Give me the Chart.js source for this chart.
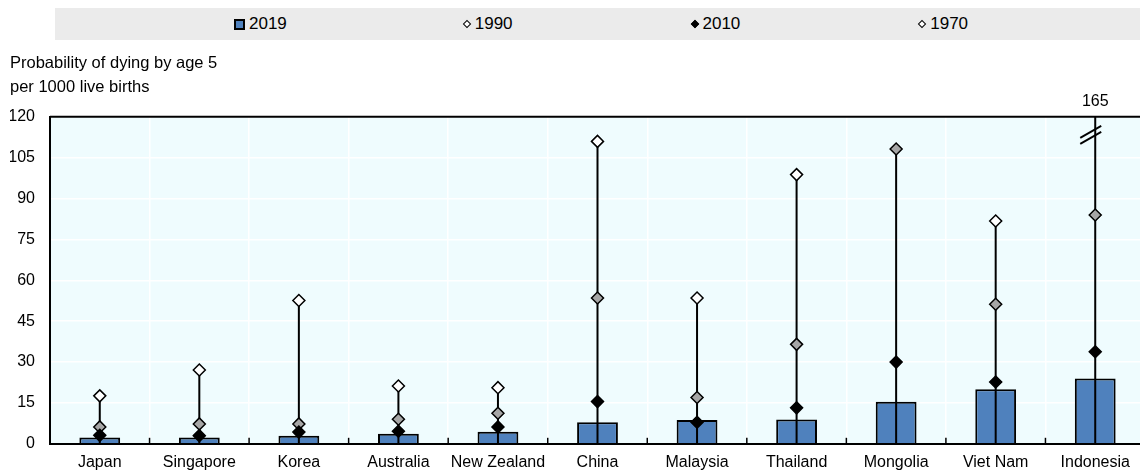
<!DOCTYPE html>
<html>
<head>
<meta charset="utf-8">
<script src="https://cdn.jsdelivr.net/npm/chart.js@4.4.1/dist/chart.umd.min.js"></script>
<style>
  html, body { margin: 0; overflow: hidden; }
  body { background: #fff; font-family: "Liberation Sans", Arial, sans-serif; }
  #wrap { position: relative; width: 1145px; height: 472px; }
  #legend { position: absolute; left: 55px; top: 8px; width: 1090px; height: 32px; background: #ebebeb;
            display: flex; padding-left: 179px; box-sizing: border-box; }
  .item { width: 229px; height: 32px; display: flex; align-items: center; font-size: 17px; color: #000; }
  .sq { width: 7px; height: 7px; border: 2px solid #000; margin-right: 4px; }
  .dm { width: 4px; height: 4px; border: 1.5px solid #000; transform: rotate(45deg); margin: 0 5px 0 2px; }
</style>
</head>
<body>
<div id="wrap">
  <canvas id="chart"></canvas>
  <div id="legend"></div>
</div>
<script>
const categories = ['Japan', 'Singapore', 'Korea', 'Australia', 'New Zealand', 'China',
                    'Malaysia', 'Thailand', 'Mongolia', 'Viet Nam', 'Indonesia'];
const v2019 = [2.3, 2.3, 3.0, 3.7, 4.4, 7.9, 8.7, 8.9, 15.4, 20.0, 24.0];
const v2010 = [3.1, 3.0, 4.3, 4.6, 6.2, 15.5, 7.9, 13.2, 30.0, 22.7, 33.8];
const v1990 = [6.2, 7.3, 7.3, 9.0, 11.2, 53.5, 17.0, 36.5, 108.2, 51.2, 84.0];
const v1970 = [17.6, 27.1, 52.6, 21.2, 20.6, 111.0, 53.5, 98.8, null, 81.8, 165];
const yTicks = { min: 0, max: 120, step: 15 };

const FONT = '"Liberation Sans", Arial, sans-serif';
Chart.defaults.font.family = FONT;
Chart.defaults.font.size = 16;
Chart.defaults.color = '#000';

// legend (html, same series order as the picture)
const legendItems = [
  { text: '2019', cls: 'sq', fill: '#4f81bd' },
  { text: '1990', cls: 'dm', fill: '#fff' },
  { text: '2010', cls: 'dm', fill: '#000' },
  { text: '1970', cls: 'dm', fill: '#fff' }
];
const legendEl = document.getElementById('legend');
legendItems.forEach(it => {
  const d = document.createElement('div');
  d.className = 'item';
  d.innerHTML = '<span class="' + it.cls + '" style="background:' + it.fill + '"></span>' + it.text;
  legendEl.appendChild(d);
});

// vertical stems from 0 to the highest value of each country
const stems = categories.map((c, i) => {
  const vals = [v2019[i], v2010[i], v1990[i], v1970[i]].filter(v => v != null);
  return [0, Math.max(...vals)];
});

const extras = {
  id: 'extras',
  beforeDraw(chart) {
    const { ctx, chartArea: a } = chart;
    ctx.save();
    ctx.fillStyle = '#effcfe';
    ctx.fillRect(a.left, a.top, a.right - a.left, a.bottom - a.top);
    ctx.restore();
  },
  afterDatasetsDraw(chart) {
    const { ctx, chartArea: a, scales: { x, y } } = chart;
    ctx.save();
    ctx.strokeStyle = '#000';
    // top border
    ctx.lineWidth = 2;
    ctx.beginPath();
    ctx.moveTo(a.left, a.top);
    ctx.lineTo(a.right, a.top);
    ctx.stroke();
    // small inner ticks between categories
    ctx.lineWidth = 1.5;
    for (let i = 1; i < categories.length; i++) {
      const px = (x.getPixelForValue(i - 1) + x.getPixelForValue(i)) / 2;
      ctx.beginPath();
      ctx.moveTo(px, a.bottom);
      ctx.lineTo(px, a.bottom - 6);
      ctx.stroke();
    }
    // values beyond the axis: break marks and label
    v1970.forEach((v, i) => {
      if (v == null || v <= y.max) return;
      const px = x.getPixelForValue(i);
      const py = a.top + 18;
      ctx.lineWidth = 1.8;
      [-3, 3].forEach(off => {
        ctx.beginPath();
        ctx.moveTo(px - 15, py + off + 6);
        ctx.lineTo(px + 6, py + off - 6);
        ctx.stroke();
      });
      ctx.fillStyle = '#000';
      ctx.font = '16px ' + FONT;
      ctx.textAlign = 'center';
      ctx.textBaseline = 'middle';
      ctx.fillText(String(v), px, a.top - 15);
    });
    ctx.restore();
  }
};

const diamond = (data, fill, order) => ({
  type: 'line',
  data: data,
  showLine: false,
  pointStyle: 'rectRot',
  pointRadius: 6,
  pointHoverRadius: 6,
  pointBackgroundColor: fill,
  pointBorderColor: '#000',
  pointBorderWidth: 1.5,
  order: order
});

new Chart(document.getElementById('chart'), {
  data: {
    labels: categories,
    datasets: [
      { type: 'bar', label: '2019', data: v2019, backgroundColor: '#4f81bd', borderColor: '#000',
        borderWidth: 2, grouped: false, categoryPercentage: 1, barPercentage: 0.41, order: 5 },
      { type: 'bar', label: 'stem', data: stems, backgroundColor: '#000', grouped: false,
        maxBarThickness: 2, borderWidth: 0, order: 4 },
      Object.assign(diamond(v1970, '#fff', 3), { label: '1970' }),
      Object.assign(diamond(v1990, '#a6a6a6', 2), { label: '1990' }),
      Object.assign(diamond(v2010, '#000', 1), { label: '2010' })
    ]
  },
  options: {
    responsive: true,
    maintainAspectRatio: false,
    animation: false,
    layout: { autoPadding: false, padding: { left: 10, right: 0, top: 43, bottom: -9 } },
    plugins: {
      legend: { display: false },
      tooltip: { enabled: false },
      title: {
        display: true,
        text: ['Probability of dying by age 5', 'per 1000 live births'],
        align: 'start',
        color: '#000',
        font: { size: 16.5, weight: 'normal', lineHeight: 1.42 },
        padding: { top: 9, bottom: 18 }
      }
    },
    scales: {
      x: {
        offset: true,
        grid: { color: '#fff', lineWidth: 1.5, drawTicks: false },
        border: { color: '#000', width: 2 },
        ticks: { padding: 9, maxRotation: 0, autoSkip: false, font: { size: 16, lineHeight: 1.2 } }
      },
      y: {
        min: yTicks.min,
        max: yTicks.max,
        grid: { color: '#fff', lineWidth: 1.5, drawTicks: false },
        border: { color: '#000', width: 2 },
        ticks: { stepSize: yTicks.step, padding: 15, font: { size: 16 } },
        afterFit(scale) { scale.width = 40; }
      }
    }
  },
  plugins: [extras]
});
</script>
</body>
</html>
